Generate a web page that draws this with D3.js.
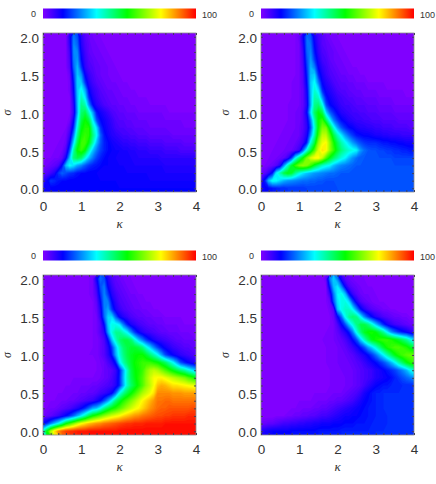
<!DOCTYPE html>
<html>
<head>
<meta charset="utf-8">
<script src="https://cdn.jsdelivr.net/npm/d3@7"></script>
<style>
  html, body { margin: 0; padding: 0; background: #fff; }
  svg { display: block; }
</style>
</head>
<body>
<div id="chart"></div>
<script>
// rows run from sigma 2.0 down to 0.0 in steps of 0.1,
// columns from kappa 0.0 to 4.0 in steps of 0.1. values are percent
var sigmaTicks = [0, 0.5, 1, 1.5, 2];
var sigmaMinor = [0,0.1,0.2,0.3,0.4,0.5,0.6,0.7,0.8,0.9,1,1.1,1.2,1.3,1.4,1.5,1.6,1.7,1.8,1.9,2];
var kappaTicks = [0, 1, 2, 3, 4];
var kappaMinor = [0,0.2,0.4,0.6,0.8,1,1.2,1.4,1.6,1.8,2,2.2,2.4,2.6,2.8,3,3.2,3.4,3.6,3.8,4];
var barLabels = ["0", "100"];

var panelA = [
[0,0,0,0,0,0,1,10,24,20, 9,5,3,2,1,1,0,0,0,0, 0,0,0,0,0,0,0,0,0,0, 0,0,0,0,0,0,0,0,0,0,0],
[0,0,0,0,0,0,1,9,25,22, 10,6,4,2,2,1,1,0,0,0, 0,0,0,0,0,0,0,0,0,0, 0,0,0,0,0,0,0,0,0,0,0],
[0,0,0,0,0,0,1,7,25,25, 12,7,4,3,2,2,1,1,0,0, 0,0,0,0,0,0,0,0,0,0, 0,0,0,0,0,0,0,0,0,0,0],
[0,0,0,0,0,0,1,6,24,27, 14,8,5,4,3,2,2,1,1,0, 0,0,0,0,0,0,0,0,0,0, 0,0,0,0,0,0,0,0,0,0,0],
[0,0,0,0,0,0,1,5,22,30, 18,9,6,5,3,3,2,2,1,1, 0,0,0,0,0,0,0,0,0,0, 0,0,0,0,0,0,0,0,0,0,0],
[0,0,0,0,0,0,0,3,18,31, 26,13,8,6,4,3,2,2,1,1, 1,0,0,0,0,0,0,0,0,0, 0,0,0,0,0,0,0,0,0,0,0],
[0,0,0,0,0,0,0,2,15,32, 31,18,10,7,5,4,3,2,2,2, 1,1,1,0,0,0,0,0,0,0, 0,0,0,0,0,0,0,0,0,0,0],
[0,0,0,0,0,0,0,2,13,31, 37,28,13,9,7,5,4,3,3,2, 2,1,1,1,1,0,0,0,0,0, 0,0,0,0,0,0,0,0,0,0,0],
[0,0,0,0,0,0,0,1,11,30, 41,34,17,11,8,6,5,4,3,3, 2,2,2,1,1,1,1,1,0,0, 0,0,0,0,0,0,0,0,0,0,0],
[0,0,0,0,0,0,0,1,9,29, 45,42,26,14,10,8,6,5,4,4, 3,3,2,2,2,1,1,1,1,1, 1,1,1,0,0,0,0,0,0,0,0],
[0,0,0,0,0,0,0,1,8,28, 47,50,40,28,15,12,10,8,6,5, 4,4,3,3,3,2,2,2,2,2, 2,2,1,1,1,1,1,1,1,1,1],
[0,0,0,0,0,0,0,2,12,33, 50,56,50,35,20,14,12,10,8,6, 5,5,4,4,3,3,3,3,2,2, 2,2,2,2,2,2,2,1,1,1,1],
[0,0,0,0,0,0,1,5,17,38, 54,58,58,42,33,18,13,11,9,7, 6,6,5,5,4,4,4,3,3,3, 3,3,3,2,2,2,2,2,2,2,2],
[0,0,0,0,0,1,2,8,24,44, 57,60,58,46,36,22,15,12,10,9, 8,7,7,6,6,5,5,5,4,4, 4,4,4,4,3,3,3,3,3,3,3],
[0,0,0,0,1,1,3,13,32,50, 60,61,54,42,30,21,16,14,12,11, 10,9,9,8,8,7,7,7,6,6, 6,6,5,5,5,5,5,4,4,4,4],
[0,0,0,1,1,2,6,20,42,56, 60,55,42,31,24,19,16,14,13,12, 12,11,11,10,10,9,9,9,8,8, 8,8,7,7,7,7,6,6,6,6,6],
[0,1,1,2,2,4,12,30,46,50, 47,38,30,24,19,16,14,13,12,12, 11,11,11,11,10,10,10,10,10,10, 10,9,9,9,9,9,9,9,9,9,9],
[1,2,3,4,6,14,30,36,33,28, 25,21,18,16,15,14,13,13,12,12, 12,12,11,11,11,11,11,11,11,11, 11,11,10,10,10,10,10,10,10,10,10],
[4,5,7,10,18,22,20,18,17,15, 14,14,13,13,13,12,12,12,12,12, 12,12,12,12,12,12,12,12,11,11, 11,11,11,11,11,11,11,11,11,11,11],
[9,12,18,17,15,14,14,13,13,13, 13,13,13,13,13,13,13,13,13,13, 12,12,12,12,12,12,12,12,12,12, 12,12,12,12,12,12,12,12,12,12,12],
[12,12,13,13,13,13,13,13,13,13, 13,13,13,13,13,13,13,13,13,13, 13,13,13,13,13,13,13,13,13,13, 13,13,13,13,13,13,13,13,13,13,13]
];

var panelB = [
[0,0,0,0,0,0,0,0,0,1, 3,12,23,21,11,7,5,3,2,1, 1,0,0,0,0,0,0,0,0,0, 0,0,0,0,0,0,0,0,0,0,0],
[0,0,0,0,0,0,0,0,0,1, 2,10,23,23,13,8,5,4,3,2, 1,1,0,0,0,0,0,0,0,0, 0,0,0,0,0,0,0,0,0,0,0],
[0,0,0,0,0,0,0,0,0,1, 2,8,22,25,15,9,6,5,3,3, 2,1,1,0,0,0,0,0,0,0, 0,0,0,0,0,0,0,0,0,0,0],
[0,0,0,0,0,0,0,0,0,1, 2,7,20,27,18,11,7,6,4,3, 2,2,1,1,0,0,0,0,0,0, 0,0,0,0,0,0,0,0,0,0,0],
[0,0,0,0,0,0,0,0,0,1, 2,6,18,29,24,13,9,7,5,4, 3,2,2,1,1,1,0,0,0,0, 0,0,0,0,0,0,0,0,0,0,0],
[0,0,0,0,0,0,0,0,0,1, 2,5,16,30,32,17,11,8,6,5, 4,3,3,2,2,1,1,1,0,0, 0,0,0,0,0,0,0,0,0,0,0],
[0,0,0,0,0,0,0,0,1,1, 2,5,14,31,36,24,13,10,8,6, 5,4,4,3,3,2,2,2,1,1, 1,1,1,0,0,0,0,0,0,0,0],
[0,0,0,0,0,0,0,0,1,1, 2,4,12,30,39,33,17,12,10,8, 6,5,5,4,3,3,3,2,2,2, 2,1,1,1,1,1,1,1,0,0,0],
[0,0,0,0,0,0,0,0,1,1, 2,4,11,29,42,40,26,15,12,10, 8,7,6,5,5,4,4,3,3,3, 3,2,2,2,2,1,1,1,1,1,1],
[0,0,0,0,0,0,0,1,1,1, 2,4,10,28,45,47,38,20,14,12, 10,8,7,7,6,5,5,5,4,4, 4,3,3,3,3,2,2,2,2,2,2],
[0,0,0,0,0,0,0,1,1,2, 2,5,13,33,48,55,50,32,22,17, 13,10,9,8,7,7,6,6,5,5, 5,4,4,4,4,3,3,3,3,3,3],
[0,0,0,0,0,0,0,1,1,2, 2,5,10,24,42,56,60,48,35,24, 18,14,12,10,9,8,8,7,7,6, 6,6,5,5,5,5,4,4,4,4,4],
[0,0,0,0,0,0,1,1,1,2, 3,5,9,20,38,56,66,66,52,38, 28,21,17,14,13,11,10,10,9,9, 8,8,7,7,7,6,6,6,6,5,5],
[0,0,0,0,0,1,1,1,2,2, 3,6,11,26,42,60,72,72,62,50, 41,34,27,22,18,15,14,13,13,12, 11,11,10,10,9,9,9,8,8,8,8],
[0,0,0,0,1,1,1,2,2,3, 5,8,16,38,50,68,76,78,68,57, 49,42,37,32,27,23,20,18,17,17, 17,16,15,15,14,14,13,13,12,12,12],
[0,0,0,1,1,1,2,2,3,5, 8,22,38,50,62,74,80,78,68,60, 52,46,42,39,37,35,27,23,21,20, 20,19,19,18,18,17,17,16,16,15,15],
[0,0,1,1,2,3,4,8,18,35, 46,56,66,74,78,78,72,62,54,48, 43,38,35,30,26,23,21,21,20,20, 20,20,20,20,20,19,19,19,19,19,19],
[1,1,2,3,5,10,26,40,52,60, 66,68,66,60,52,46,40,37,35,30, 27,25,24,23,22,21,21,20,20,20, 20,20,20,20,20,20,20,20,20,20,20],
[3,4,8,15,34,42,50,54,52,44, 38,34,31,29,27,26,25,24,23,23, 22,21,21,21,20,20,20,20,20,20, 20,20,20,20,20,20,20,20,20,20,20],
[8,16,30,37,36,32,29,27,26,25, 24,23,23,22,22,21,21,20,20,20, 20,20,20,20,20,20,20,20,20,20, 20,20,20,20,20,20,20,20,20,20,20],
[12,13,14,15,16,17,17,18,18,18, 18,18,19,19,19,19,19,19,19,19, 20,20,20,20,20,20,20,20,20,20, 20,20,20,20,20,20,20,20,20,20,20]
];

var panelC = [
[0,0,0,0,0,0,0,0,0,0, 0,0,1,2,12,23,20,10,6,4, 3,2,1,1,0,0,0,0,0,0, 0,0,0,0,0,0,0,0,0,0,0],
[0,0,0,0,0,0,0,0,0,0, 0,0,1,2,8,20,24,13,8,5, 4,3,2,1,1,0,0,0,0,0, 0,0,0,0,0,0,0,0,0,0,0],
[0,0,0,0,0,0,0,0,0,0, 0,0,1,2,6,17,25,18,10,7, 5,4,3,2,2,1,1,0,0,0, 0,0,0,0,0,0,0,0,0,0,0],
[0,0,0,0,0,0,0,0,0,0, 0,0,0,1,4,13,25,24,14,9, 6,5,4,3,2,2,1,1,1,0, 0,0,0,0,0,0,0,0,0,0,0],
[0,0,0,0,0,0,0,0,0,0, 0,0,0,1,3,10,24,28,18,11, 8,6,5,4,3,3,2,2,1,1, 1,0,0,0,0,0,0,0,0,0,0],
[0,0,0,0,0,0,0,0,0,0, 0,0,0,1,2,8,22,32,33,22, 13,10,8,6,5,4,4,3,3,2, 2,2,1,1,1,1,1,0,0,0,0],
[0,0,0,0,0,0,0,0,0,0, 0,0,0,1,2,5,14,31,37,37, 34,24,16,11,9,7,6,5,4,4, 3,3,2,2,2,2,1,1,1,1,1],
[0,0,0,0,0,0,0,0,0,0, 0,0,0,1,2,5,9,27,38,44, 44,40,35,26,18,13,10,8,7,6, 5,4,4,3,3,3,2,2,2,1,1],
[0,0,0,0,0,0,0,0,0,0, 0,0,0,1,1,3,6,14,30,40, 47,50,50,47,38,30,24,18,14,11, 9,8,7,6,5,4,4,3,3,3,2],
[0,0,0,0,0,0,0,0,0,0, 0,0,0,1,1,3,5,10,18,30, 40,47,50,52,52,50,46,38,32,25, 19,15,12,10,8,7,6,5,5,4,4],
[0,0,0,0,0,0,0,0,0,0, 0,0,1,1,1,3,5,9,15,28, 38,45,50,53,55,56,56,52,47,42, 36,28,20,16,13,11,9,8,7,6,5],
[0,0,0,0,0,0,0,0,0,0, 0,0,0,0,1,2,3,6,9,15, 33,42,48,52,56,58,60,60,60,58, 56,52,48,42,36,28,20,16,13,11,9],
[0,0,0,0,0,0,0,0,0,0, 0,0,0,0,1,1,3,4,5,8, 15,28,40,50,55,57,60,66,70,72, 70,66,62,58,54,50,46,43,38,34,30],
[0,0,0,0,0,0,0,0,1,1, 1,1,1,1,1,2,3,4,6,9, 16,29,41,49,54,58,62,68,73,77, 78,78,76,74,72,70,68,66,62,59,55],
[0,0,0,0,0,0,1,1,1,1, 2,2,2,3,3,4,5,6,7,10, 16,28,40,47,52,57,62,68,72,77, 83,85,84,82,80,80,79,78,77,76,75],
[0,0,0,0,1,1,1,1,2,2, 3,3,4,4,5,7,8,10,13,22, 36,44,50,55,60,65,70,73,76,80, 88,88,88,88,87,87,87,86,86,86,86],
[0,0,1,1,1,2,2,3,3,4, 5,6,7,8,11,14,20,27,36,46, 52,58,62,66,70,74,78,81,84,87, 90,90,91,91,90,90,90,90,90,90,90],
[1,1,2,2,3,4,5,6,8,10, 13,17,22,28,30,36,44,50,55,58, 62,66,70,73,76,78,81,84,87,89, 91,92,92,93,93,93,93,93,93,94,94],
[2,3,4,6,8,11,14,18,23,29, 35,42,50,56,60,64,68,71,74,76, 78,81,83,85,87,88,90,91,92,93, 94,94,95,95,96,96,96,96,97,97,97],
[14,17,24,30,36,44,54,60,66,72, 77,80,83,85,87,88,90,91,92,93, 94,95,96,96,97,97,97,98,98,98, 98,98,99,99,99,99,99,99,99,99,99],
[40,55,70,80,88,92,95,96,97,98, 98,98,99,99,99,99,99,99,99,99, 100,100,100,100,100,100,100,100,100,100, 100,100,100,100,100,100,100,100,100,100,100]
];

var panelD = [
[0,0,0,0,0,0,0,0,0,0, 0,0,0,0,0,0,0,3,24,32, 24,10,5,3,2,1,1,1,0,0, 0,0,0,0,0,0,0,0,0,0,0],
[0,0,0,0,0,0,0,0,0,0, 0,0,0,0,0,0,0,1,16,30, 34,25,12,6,4,3,2,1,1,1, 0,0,0,0,0,0,0,0,0,0,0],
[0,0,0,0,0,0,0,0,0,0, 0,0,0,0,0,0,0,1,8,24, 35,37,30,15,8,5,3,2,2,1, 1,0,0,0,0,0,0,0,0,0,0],
[0,0,0,0,0,0,0,0,0,0, 0,0,0,0,0,0,0,1,3,20, 33,37,38,33,20,11,6,4,3,2, 1,1,1,0,0,0,0,0,0,0,0],
[0,0,0,0,0,0,0,0,0,0, 0,0,0,0,0,0,0,0,2,5, 30,37,40,40,35,25,15,10,7,5, 4,3,2,2,1,1,0,0,0,0,0],
[0,0,0,0,0,0,0,0,0,0, 0,0,0,0,0,0,0,0,1,3, 12,22,36,44,47,45,36,26,19,14, 10,8,6,5,4,3,3,2,2,1,1],
[0,0,0,0,0,0,0,0,0,0, 0,0,0,0,0,0,0,0,1,2, 6,13,20,30,38,45,50,50,46,39, 31,24,17,12,9,7,6,5,4,3,3],
[0,0,0,0,0,0,0,0,0,0, 0,0,0,0,0,0,0,1,1,2, 4,7,10,15,24,37,46,53,56,57, 55,50,44,35,27,22,18,15,13,10,8],
[0,0,0,0,0,0,0,0,0,0, 0,0,0,0,0,0,1,1,1,2, 3,4,6,9,14,20,31,40,48,54, 57,59,60,60,58,55,52,48,44,38,33],
[0,0,0,0,0,0,0,0,0,0, 0,0,0,0,0,0,0,1,1,1, 2,3,4,6,8,11,15,20,27,32, 38,45,52,57,60,62,62,60,58,54,50],
[0,0,0,0,0,0,0,0,0,0, 0,0,0,0,0,0,0,1,1,1, 2,2,3,4,5,7,9,11,14,18, 23,29,35,42,48,54,58,61,63,64,64],
[0,0,0,0,0,0,0,0,0,0, 0,0,0,0,0,0,0,1,1,1, 2,2,2,3,4,5,6,8,10,12, 14,17,20,24,29,35,42,48,54,58,60],
[0,0,0,0,0,0,0,0,0,0, 0,0,0,0,0,0,0,0,1,1, 1,2,2,2,3,4,5,6,7,8, 10,11,13,15,17,19,22,25,29,35,40],
[0,0,0,0,0,0,0,0,0,0, 0,0,0,0,0,0,0,0,1,1, 1,1,2,2,3,4,5,6,7,8, 10,11,12,13,14,16,18,20,22,24,26],
[0,0,0,0,0,0,0,0,0,0, 0,0,0,0,0,0,0,0,1,1, 1,1,2,2,3,4,5,7,9,11, 13,14,15,15,16,16,16,17,17,17,17],
[0,0,0,0,0,0,0,0,0,0, 0,0,0,0,1,1,1,1,1,2, 2,2,3,4,5,6,8,11,13,15, 16,16,17,17,17,17,17,17,17,17,17],
[0,0,0,0,0,0,0,0,0,0, 1,1,1,1,1,2,2,2,3,3, 4,4,5,6,7,9,11,13,14,15, 16,16,17,17,17,17,17,17,17,17,17],
[0,0,0,0,0,0,0,0,1,1, 1,2,2,2,3,3,4,4,5,6, 7,8,9,10,11,12,13,14,15,15, 16,16,17,17,17,17,17,17,17,17,17],
[0,0,0,0,1,1,1,2,2,3, 3,4,4,5,5,6,7,7,8,9, 10,11,12,12,13,13,14,14,15,15, 16,16,16,17,17,17,17,17,17,17,17],
[3,3,4,4,5,6,7,7,8,8, 9,9,10,10,11,11,12,12,12,13, 13,13,14,14,14,15,15,15,15,16, 16,16,16,17,17,17,17,17,17,17,17],
[10,11,12,13,13,13,13,13,14,14, 14,14,14,14,14,15,15,15,15,15, 15,16,16,16,16,16,16,16,16,16, 17,17,17,17,17,17,17,17,17,17,17]
];

var panels = [panelA, panelB, panelC, panelD];

var W = 436, H = 484;
var plotW = 153;
var lefts = [43, 261, 43, 261];
var tops = [33, 33, 275, 275];
var heights = [159, 159, 160, 160];

var svg = d3.select("#chart").append("svg")
    .attr("width", W)
    .attr("height", H);

// rainbow colour table
var color = d3.scaleLinear()
  .domain([0, 13, 35, 55, 77, 100])
  .range(["#8000ff", "#0000ff", "#00ffff", "#00ff00", "#ffff00", "#ff0000"])
  .clamp(true);

var grad = svg.append("defs").append("linearGradient").attr("id", "rainbow");
grad.selectAll("stop")
  .data(color.domain())
  .enter()
  .append("stop")
    .attr("offset", function(d) { return d + "%"; })
    .attr("stop-color", function(d) { return color(d); });

var levels = d3.range(1, 100, 1);
var contours = d3.contours().size([41, 21]).thresholds(levels);

// grid coordinate of the contour output -> data value
var gridX = d3.scaleLinear().domain([0.5, 40.5]).range([0, 4]);
var gridY = d3.scaleLinear().domain([0.5, 20.5]).range([2, 0]);

function tickColor(a) {
  a.select(".domain").remove();
  a.selectAll("line").attr("stroke", "#445");
}

panels.forEach(function(data, i) {
  var g = svg.append("g")
      .attr("transform", "translate(" + lefts[i] + "," + tops[i] + ")");

  var x = d3.scaleLinear().domain([0, 4]).range([0, plotW]);
  var y = d3.scaleLinear().domain([-0.05, 2.05]).range([heights[i], 0]);

  g.append("clipPath").attr("id", "clip" + i)
    .append("rect")
      .attr("width", plotW)
      .attr("height", heights[i]);

  var path = d3.geoPath(d3.geoTransform({
    point: function(a, b) { this.stream.point(x(gridX(a)), y(gridY(b))); }
  }));

  var plot = g.append("g").attr("clip-path", "url(#clip" + i + ")");
  plot.append("rect")
      .attr("width", plotW)
      .attr("height", heights[i])
      .attr("fill", color(0));
  plot.selectAll("path")
    .data(contours(data.flat()))
    .enter()
    .append("path")
      .attr("d", path)
      .attr("fill", function(d) { return color(d.value); });

  // frame
  g.append("rect")
      .attr("width", plotW)
      .attr("height", heights[i])
      .attr("fill", "none")
      .attr("stroke", "#8c8c8c")
      .attr("stroke-width", 0.8);

  // minor ticks pointing into the plot
  g.append("g").attr("transform", "translate(0," + heights[i] + ")")
    .call(d3.axisBottom(x).tickValues(kappaMinor).tickSize(-2).tickFormat(""))
    .call(tickColor);
  g.append("g")
    .call(d3.axisTop(x).tickValues(kappaMinor).tickSize(-2).tickFormat(""))
    .call(tickColor);
  g.append("g")
    .call(d3.axisLeft(y).tickValues(sigmaMinor).tickSize(-2).tickFormat(""))
    .call(tickColor);
  g.append("g").attr("transform", "translate(" + plotW + ",0)")
    .call(d3.axisRight(y).tickValues(sigmaMinor).tickSize(-2).tickFormat(""))
    .call(tickColor);

  // labels
  var xAxis = d3.axisBottom(x).tickValues(kappaTicks).tickSize(0).tickPadding(9).tickFormat(d3.format("d"));
  g.append("g").attr("transform", "translate(0," + heights[i] + ")").call(xAxis)
    .call(function(a) {
      a.select(".domain").remove();
      a.selectAll("text").attr("font-family", "Liberation Sans").attr("font-size", 13.5).attr("fill", "#333");
    });

  var yAxis = d3.axisLeft(y).tickValues(sigmaTicks).tickSize(0).tickPadding(4).tickFormat(d3.format(".1f"));
  g.append("g").call(yAxis)
    .call(function(a) {
      a.select(".domain").remove();
      a.selectAll("text").attr("dy", "0.42em").attr("font-family", "Liberation Sans").attr("font-size", 13.5).attr("fill", "#333");
    });

  g.append("text")
      .attr("x", plotW / 2)
      .attr("y", heights[i] + 36)
      .attr("text-anchor", "middle")
      .attr("font-family", "Liberation Serif")
      .attr("font-style", "italic")
      .attr("font-size", 13)
      .attr("fill", "#333")
      .text("κ");
  g.append("text")
      .attr("transform", "translate(-32," + (heights[i] / 2) + ") rotate(-90)")
      .attr("text-anchor", "middle")
      .attr("font-family", "Liberation Serif")
      .attr("font-style", "italic")
      .attr("font-size", 12)
      .attr("fill", "#333")
      .text("σ");

  // colour bar above each panel
  var bar = g.append("g").attr("transform", "translate(0,-24.5)");
  bar.append("rect")
      .attr("width", plotW)
      .attr("height", 10)
      .attr("fill", "url(#rainbow)");
  bar.append("text")
      .attr("x", -7)
      .attr("y", 8)
      .attr("text-anchor", "end")
      .attr("font-family", "Liberation Sans")
      .attr("font-size", 9)
      .attr("fill", "#333")
      .text(barLabels[0]);
  bar.append("text")
      .attr("x", plotW + 6)
      .attr("y", 9)
      .attr("font-family", "Liberation Sans")
      .attr("font-size", 9)
      .attr("fill", "#333")
      .text(barLabels[1]);
});
</script>
</body>
</html>
